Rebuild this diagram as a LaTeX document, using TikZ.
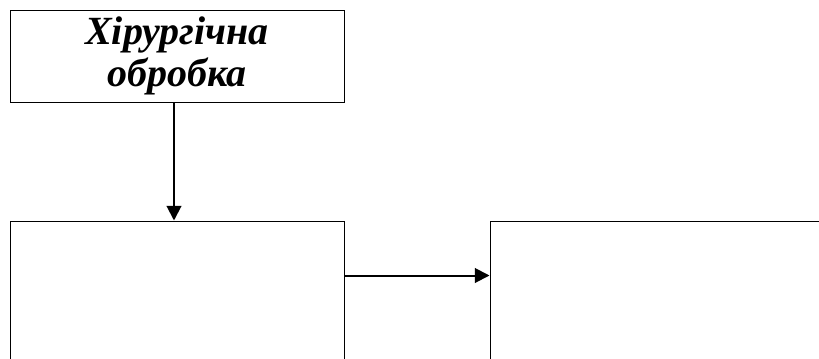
\documentclass[tikz,border=0pt]{standalone}
\usepackage{fontspec}
\setmainfont{Liberation Serif}
\usepackage{tikz}
\usetikzlibrary{arrows.meta}

\tikzset{
  block/.style={draw, line width=0.75pt, inner sep=0pt, align=center},
  arr/.style={line width=1.5pt, -{Triangle[length=11pt,width=11pt]}}
}

\begin{document}
\begin{tikzpicture}[x=0.75pt,y=0.75pt,yscale=-1,xscale=1]
%set diagram area to 819 x 358
\clip (0,0) rectangle (819,358);

%Shape: Rectangle [top box]
\node [block, minimum width=250.5pt, minimum height=69pt, font=\fontsize{30}{31.5}\selectfont\bfseries\itshape] (surgery) at (177,56) {Хірургічна\\обробка};
%Shape: Rectangle [lower left box]
\node [block, minimum width=250.5pt, minimum height=150pt] (leftbox) at (177,321) {};
%Shape: Rectangle [lower right box]
\node [block, minimum width=255pt, minimum height=150pt] (rightbox) at (660,321) {};

% Connection
\draw [arr] ([xshift=-2.25pt]surgery.south) -- ([xshift=-2.25pt]leftbox.north);
% Connection
\draw [arr] ([yshift=41.25pt]leftbox.north east) -- ([yshift=41.25pt]rightbox.north west);

\end{tikzpicture}
\end{document}
